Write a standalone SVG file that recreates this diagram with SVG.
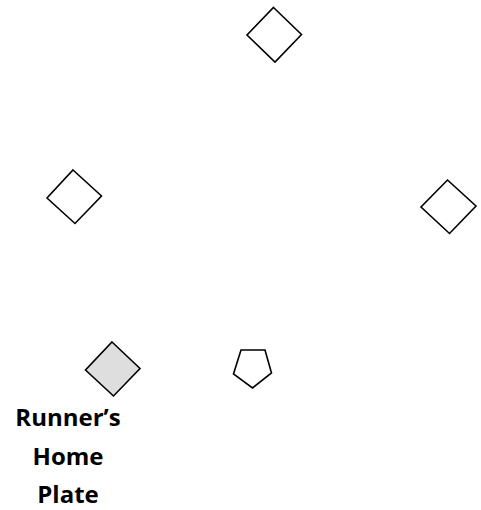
<svg xmlns="http://www.w3.org/2000/svg" width="481" height="510" viewBox="0 0 481 510">
<style>
.base{fill:#ffffff;stroke:#000000;stroke-width:1.6;stroke-linejoin:miter}
.home{fill:#dedede;stroke:#000000;stroke-width:1.6}
.lbl{font-family:"Open Sans","Liberation Sans",sans-serif;font-weight:bold;font-size:24px;fill:#000000;text-anchor:middle}
</style>
<rect width="481" height="510" fill="#ffffff"/>
<g id="second-base"><polygon class="base" points="273.5,7.5 301.5,34.5 275,62 247,35"/></g>
<g id="third-base"><polygon class="base" points="73,170 101.5,196 75,223.5 47,198"/></g>
<g id="first-base"><polygon class="base" points="447.5,180 476,206 449.5,233.5 421,207"/></g>
<g id="runners-home-plate"><polygon class="home" points="112,342 140,368.5 113.5,396 85.5,370"/>
<text class="lbl" x="68" y="426">Runner’s</text>
<text class="lbl" x="68" y="465">Home</text>
<text class="lbl" x="68" y="503">Plate</text></g>
<g id="home-plate"><polygon class="base" points="241,350 265,350 271.5,373 252.5,388 233.5,374"/></g>
<g id="connectors"></g>
</svg>
